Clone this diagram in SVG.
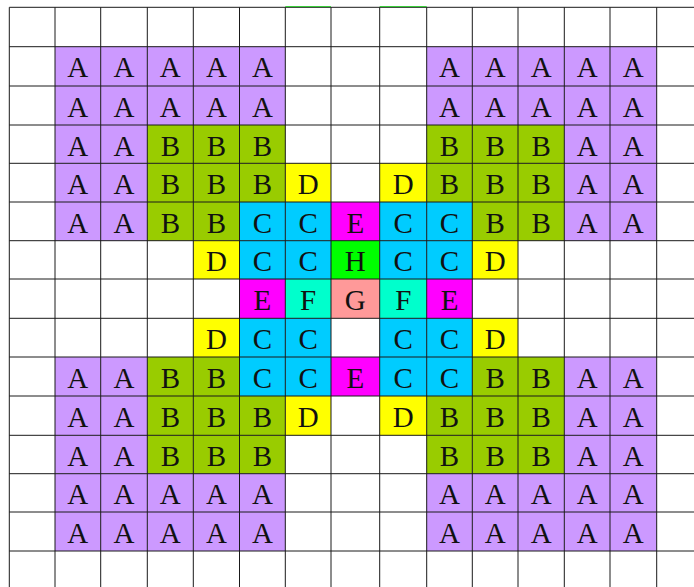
<svg xmlns="http://www.w3.org/2000/svg" width="694" height="587" viewBox="0 0 694 587">
<style>
rect{stroke:none}
.A{fill:#cc99ff}.B{fill:#99cc00}.C{fill:#00ccff}.D{fill:#ffff00}.E{fill:#ff00ff}.F{fill:#00ffcc}.G{fill:#ff9999}.H{fill:#00ff00}
text{font-family:"Liberation Serif","Times New Roman",serif;font-size:29px;text-anchor:middle;fill:#111}
.grid line{stroke:#1a1a1a;stroke-width:1}
</style>
<rect x="0" y="0" width="694" height="587" fill="#ffffff"/>
<g id="cells">
<!-- Row 1 -->
<g id="r1c1"><rect class="A" x="55" y="46.7" width="45.7" height="39.3"/><text x="77.85" y="77.3">A</text></g>
<g id="r1c2"><rect class="A" x="100.7" y="46.7" width="46.6" height="39.3"/><text x="124" y="77.3">A</text></g>
<g id="r1c3"><rect class="A" x="147.3" y="46.7" width="46" height="39.3"/><text x="170.3" y="77.3">A</text></g>
<g id="r1c4"><rect class="A" x="193.3" y="46.7" width="46.2" height="39.3"/><text x="216.4" y="77.3">A</text></g>
<g id="r1c5"><rect class="A" x="239.5" y="46.7" width="45.8" height="39.3"/><text x="262.4" y="77.3">A</text></g>
<g id="r1c9"><rect class="A" x="426.7" y="46.7" width="45.6" height="39.3"/><text x="449.5" y="77.3">A</text></g>
<g id="r1c10"><rect class="A" x="472.3" y="46.7" width="45.7" height="39.3"/><text x="495.15" y="77.3">A</text></g>
<g id="r1c11"><rect class="A" x="518" y="46.7" width="46.3" height="39.3"/><text x="541.15" y="77.3">A</text></g>
<g id="r1c12"><rect class="A" x="564.3" y="46.7" width="45.7" height="39.3"/><text x="587.15" y="77.3">A</text></g>
<g id="r1c13"><rect class="A" x="610" y="46.7" width="46.7" height="39.3"/><text x="633.35" y="77.3">A</text></g>
<!-- Row 2 -->
<g id="r2c1"><rect class="A" x="55" y="86" width="45.7" height="39"/><text x="77.85" y="116.6">A</text></g>
<g id="r2c2"><rect class="A" x="100.7" y="86" width="46.6" height="39"/><text x="124" y="116.6">A</text></g>
<g id="r2c3"><rect class="A" x="147.3" y="86" width="46" height="39"/><text x="170.3" y="116.6">A</text></g>
<g id="r2c4"><rect class="A" x="193.3" y="86" width="46.2" height="39"/><text x="216.4" y="116.6">A</text></g>
<g id="r2c5"><rect class="A" x="239.5" y="86" width="45.8" height="39"/><text x="262.4" y="116.6">A</text></g>
<g id="r2c9"><rect class="A" x="426.7" y="86" width="45.6" height="39"/><text x="449.5" y="116.6">A</text></g>
<g id="r2c10"><rect class="A" x="472.3" y="86" width="45.7" height="39"/><text x="495.15" y="116.6">A</text></g>
<g id="r2c11"><rect class="A" x="518" y="86" width="46.3" height="39"/><text x="541.15" y="116.6">A</text></g>
<g id="r2c12"><rect class="A" x="564.3" y="86" width="45.7" height="39"/><text x="587.15" y="116.6">A</text></g>
<g id="r2c13"><rect class="A" x="610" y="86" width="46.7" height="39"/><text x="633.35" y="116.6">A</text></g>
<!-- Row 3 -->
<g id="r3c1"><rect class="A" x="55" y="125" width="45.7" height="38.3"/><text x="77.85" y="155.6">A</text></g>
<g id="r3c2"><rect class="A" x="100.7" y="125" width="46.6" height="38.3"/><text x="124" y="155.6">A</text></g>
<g id="r3c3"><rect class="B" x="147.3" y="125" width="46" height="38.3"/><text x="170.3" y="155.6">B</text></g>
<g id="r3c4"><rect class="B" x="193.3" y="125" width="46.2" height="38.3"/><text x="216.4" y="155.6">B</text></g>
<g id="r3c5"><rect class="B" x="239.5" y="125" width="45.8" height="38.3"/><text x="262.4" y="155.6">B</text></g>
<g id="r3c9"><rect class="B" x="426.7" y="125" width="45.6" height="38.3"/><text x="449.5" y="155.6">B</text></g>
<g id="r3c10"><rect class="B" x="472.3" y="125" width="45.7" height="38.3"/><text x="495.15" y="155.6">B</text></g>
<g id="r3c11"><rect class="B" x="518" y="125" width="46.3" height="38.3"/><text x="541.15" y="155.6">B</text></g>
<g id="r3c12"><rect class="A" x="564.3" y="125" width="45.7" height="38.3"/><text x="587.15" y="155.6">A</text></g>
<g id="r3c13"><rect class="A" x="610" y="125" width="46.7" height="38.3"/><text x="633.35" y="155.6">A</text></g>
<!-- Row 4 -->
<g id="r4c1"><rect class="A" x="55" y="163.3" width="45.7" height="38.7"/><text x="77.85" y="193.9">A</text></g>
<g id="r4c2"><rect class="A" x="100.7" y="163.3" width="46.6" height="38.7"/><text x="124" y="193.9">A</text></g>
<g id="r4c3"><rect class="B" x="147.3" y="163.3" width="46" height="38.7"/><text x="170.3" y="193.9">B</text></g>
<g id="r4c4"><rect class="B" x="193.3" y="163.3" width="46.2" height="38.7"/><text x="216.4" y="193.9">B</text></g>
<g id="r4c5"><rect class="B" x="239.5" y="163.3" width="45.8" height="38.7"/><text x="262.4" y="193.9">B</text></g>
<g id="r4c6"><rect class="D" x="285.3" y="163.3" width="45.7" height="38.7"/><text x="308.15" y="193.9">D</text></g>
<g id="r4c8"><rect class="D" x="379.7" y="163.3" width="47" height="38.7"/><text x="403.2" y="193.9">D</text></g>
<g id="r4c9"><rect class="B" x="426.7" y="163.3" width="45.6" height="38.7"/><text x="449.5" y="193.9">B</text></g>
<g id="r4c10"><rect class="B" x="472.3" y="163.3" width="45.7" height="38.7"/><text x="495.15" y="193.9">B</text></g>
<g id="r4c11"><rect class="B" x="518" y="163.3" width="46.3" height="38.7"/><text x="541.15" y="193.9">B</text></g>
<g id="r4c12"><rect class="A" x="564.3" y="163.3" width="45.7" height="38.7"/><text x="587.15" y="193.9">A</text></g>
<g id="r4c13"><rect class="A" x="610" y="163.3" width="46.7" height="38.7"/><text x="633.35" y="193.9">A</text></g>
<!-- Row 5 -->
<g id="r5c1"><rect class="A" x="55" y="202" width="45.7" height="38.7"/><text x="77.85" y="232.6">A</text></g>
<g id="r5c2"><rect class="A" x="100.7" y="202" width="46.6" height="38.7"/><text x="124" y="232.6">A</text></g>
<g id="r5c3"><rect class="B" x="147.3" y="202" width="46" height="38.7"/><text x="170.3" y="232.6">B</text></g>
<g id="r5c4"><rect class="B" x="193.3" y="202" width="46.2" height="38.7"/><text x="216.4" y="232.6">B</text></g>
<g id="r5c5"><rect class="C" x="239.5" y="202" width="45.8" height="38.7"/><text x="262.4" y="232.6">C</text></g>
<g id="r5c6"><rect class="C" x="285.3" y="202" width="45.7" height="38.7"/><text x="308.15" y="232.6">C</text></g>
<g id="r5c7"><rect class="E" x="331" y="202" width="48.7" height="38.7"/><text x="355.35" y="232.6">E</text></g>
<g id="r5c8"><rect class="C" x="379.7" y="202" width="47" height="38.7"/><text x="403.2" y="232.6">C</text></g>
<g id="r5c9"><rect class="C" x="426.7" y="202" width="45.6" height="38.7"/><text x="449.5" y="232.6">C</text></g>
<g id="r5c10"><rect class="B" x="472.3" y="202" width="45.7" height="38.7"/><text x="495.15" y="232.6">B</text></g>
<g id="r5c11"><rect class="B" x="518" y="202" width="46.3" height="38.7"/><text x="541.15" y="232.6">B</text></g>
<g id="r5c12"><rect class="A" x="564.3" y="202" width="45.7" height="38.7"/><text x="587.15" y="232.6">A</text></g>
<g id="r5c13"><rect class="A" x="610" y="202" width="46.7" height="38.7"/><text x="633.35" y="232.6">A</text></g>
<!-- Row 6 -->
<g id="r6c4"><rect class="D" x="193.3" y="240.7" width="46.2" height="38.3"/><text x="216.4" y="271.3">D</text></g>
<g id="r6c5"><rect class="C" x="239.5" y="240.7" width="45.8" height="38.3"/><text x="262.4" y="271.3">C</text></g>
<g id="r6c6"><rect class="C" x="285.3" y="240.7" width="45.7" height="38.3"/><text x="308.15" y="271.3">C</text></g>
<g id="r6c7"><rect class="H" x="331" y="240.7" width="48.7" height="38.3"/><text x="355.35" y="271.3">H</text></g>
<g id="r6c8"><rect class="C" x="379.7" y="240.7" width="47" height="38.3"/><text x="403.2" y="271.3">C</text></g>
<g id="r6c9"><rect class="C" x="426.7" y="240.7" width="45.6" height="38.3"/><text x="449.5" y="271.3">C</text></g>
<g id="r6c10"><rect class="D" x="472.3" y="240.7" width="45.7" height="38.3"/><text x="495.15" y="271.3">D</text></g>
<!-- Row 7 -->
<g id="r7c5"><rect class="E" x="239.5" y="279" width="45.8" height="39.3"/><text x="262.4" y="309.6">E</text></g>
<g id="r7c6"><rect class="F" x="285.3" y="279" width="45.7" height="39.3"/><text x="308.15" y="309.6">F</text></g>
<g id="r7c7"><rect class="G" x="331" y="279" width="48.7" height="39.3"/><text x="355.35" y="309.6">G</text></g>
<g id="r7c8"><rect class="F" x="379.7" y="279" width="47" height="39.3"/><text x="403.2" y="309.6">F</text></g>
<g id="r7c9"><rect class="E" x="426.7" y="279" width="45.6" height="39.3"/><text x="449.5" y="309.6">E</text></g>
<!-- Row 8 -->
<g id="r8c4"><rect class="D" x="193.3" y="318.3" width="46.2" height="38.7"/><text x="216.4" y="348.9">D</text></g>
<g id="r8c5"><rect class="C" x="239.5" y="318.3" width="45.8" height="38.7"/><text x="262.4" y="348.9">C</text></g>
<g id="r8c6"><rect class="C" x="285.3" y="318.3" width="45.7" height="38.7"/><text x="308.15" y="348.9">C</text></g>
<g id="r8c8"><rect class="C" x="379.7" y="318.3" width="47" height="38.7"/><text x="403.2" y="348.9">C</text></g>
<g id="r8c9"><rect class="C" x="426.7" y="318.3" width="45.6" height="38.7"/><text x="449.5" y="348.9">C</text></g>
<g id="r8c10"><rect class="D" x="472.3" y="318.3" width="45.7" height="38.7"/><text x="495.15" y="348.9">D</text></g>
<!-- Row 9 -->
<g id="r9c1"><rect class="A" x="55" y="357" width="45.7" height="39"/><text x="77.85" y="387.6">A</text></g>
<g id="r9c2"><rect class="A" x="100.7" y="357" width="46.6" height="39"/><text x="124" y="387.6">A</text></g>
<g id="r9c3"><rect class="B" x="147.3" y="357" width="46" height="39"/><text x="170.3" y="387.6">B</text></g>
<g id="r9c4"><rect class="B" x="193.3" y="357" width="46.2" height="39"/><text x="216.4" y="387.6">B</text></g>
<g id="r9c5"><rect class="C" x="239.5" y="357" width="45.8" height="39"/><text x="262.4" y="387.6">C</text></g>
<g id="r9c6"><rect class="C" x="285.3" y="357" width="45.7" height="39"/><text x="308.15" y="387.6">C</text></g>
<g id="r9c7"><rect class="E" x="331" y="357" width="48.7" height="39"/><text x="355.35" y="387.6">E</text></g>
<g id="r9c8"><rect class="C" x="379.7" y="357" width="47" height="39"/><text x="403.2" y="387.6">C</text></g>
<g id="r9c9"><rect class="C" x="426.7" y="357" width="45.6" height="39"/><text x="449.5" y="387.6">C</text></g>
<g id="r9c10"><rect class="B" x="472.3" y="357" width="45.7" height="39"/><text x="495.15" y="387.6">B</text></g>
<g id="r9c11"><rect class="B" x="518" y="357" width="46.3" height="39"/><text x="541.15" y="387.6">B</text></g>
<g id="r9c12"><rect class="A" x="564.3" y="357" width="45.7" height="39"/><text x="587.15" y="387.6">A</text></g>
<g id="r9c13"><rect class="A" x="610" y="357" width="46.7" height="39"/><text x="633.35" y="387.6">A</text></g>
<!-- Row 10 -->
<g id="r10c1"><rect class="A" x="55" y="396" width="45.7" height="39.3"/><text x="77.85" y="426.6">A</text></g>
<g id="r10c2"><rect class="A" x="100.7" y="396" width="46.6" height="39.3"/><text x="124" y="426.6">A</text></g>
<g id="r10c3"><rect class="B" x="147.3" y="396" width="46" height="39.3"/><text x="170.3" y="426.6">B</text></g>
<g id="r10c4"><rect class="B" x="193.3" y="396" width="46.2" height="39.3"/><text x="216.4" y="426.6">B</text></g>
<g id="r10c5"><rect class="B" x="239.5" y="396" width="45.8" height="39.3"/><text x="262.4" y="426.6">B</text></g>
<g id="r10c6"><rect class="D" x="285.3" y="396" width="45.7" height="39.3"/><text x="308.15" y="426.6">D</text></g>
<g id="r10c8"><rect class="D" x="379.7" y="396" width="47" height="39.3"/><text x="403.2" y="426.6">D</text></g>
<g id="r10c9"><rect class="B" x="426.7" y="396" width="45.6" height="39.3"/><text x="449.5" y="426.6">B</text></g>
<g id="r10c10"><rect class="B" x="472.3" y="396" width="45.7" height="39.3"/><text x="495.15" y="426.6">B</text></g>
<g id="r10c11"><rect class="B" x="518" y="396" width="46.3" height="39.3"/><text x="541.15" y="426.6">B</text></g>
<g id="r10c12"><rect class="A" x="564.3" y="396" width="45.7" height="39.3"/><text x="587.15" y="426.6">A</text></g>
<g id="r10c13"><rect class="A" x="610" y="396" width="46.7" height="39.3"/><text x="633.35" y="426.6">A</text></g>
<!-- Row 11 -->
<g id="r11c1"><rect class="A" x="55" y="435.3" width="45.7" height="38.4"/><text x="77.85" y="465.9">A</text></g>
<g id="r11c2"><rect class="A" x="100.7" y="435.3" width="46.6" height="38.4"/><text x="124" y="465.9">A</text></g>
<g id="r11c3"><rect class="B" x="147.3" y="435.3" width="46" height="38.4"/><text x="170.3" y="465.9">B</text></g>
<g id="r11c4"><rect class="B" x="193.3" y="435.3" width="46.2" height="38.4"/><text x="216.4" y="465.9">B</text></g>
<g id="r11c5"><rect class="B" x="239.5" y="435.3" width="45.8" height="38.4"/><text x="262.4" y="465.9">B</text></g>
<g id="r11c9"><rect class="B" x="426.7" y="435.3" width="45.6" height="38.4"/><text x="449.5" y="465.9">B</text></g>
<g id="r11c10"><rect class="B" x="472.3" y="435.3" width="45.7" height="38.4"/><text x="495.15" y="465.9">B</text></g>
<g id="r11c11"><rect class="B" x="518" y="435.3" width="46.3" height="38.4"/><text x="541.15" y="465.9">B</text></g>
<g id="r11c12"><rect class="A" x="564.3" y="435.3" width="45.7" height="38.4"/><text x="587.15" y="465.9">A</text></g>
<g id="r11c13"><rect class="A" x="610" y="435.3" width="46.7" height="38.4"/><text x="633.35" y="465.9">A</text></g>
<!-- Row 12 -->
<g id="r12c1"><rect class="A" x="55" y="473.7" width="45.7" height="38.3"/><text x="77.85" y="504.3">A</text></g>
<g id="r12c2"><rect class="A" x="100.7" y="473.7" width="46.6" height="38.3"/><text x="124" y="504.3">A</text></g>
<g id="r12c3"><rect class="A" x="147.3" y="473.7" width="46" height="38.3"/><text x="170.3" y="504.3">A</text></g>
<g id="r12c4"><rect class="A" x="193.3" y="473.7" width="46.2" height="38.3"/><text x="216.4" y="504.3">A</text></g>
<g id="r12c5"><rect class="A" x="239.5" y="473.7" width="45.8" height="38.3"/><text x="262.4" y="504.3">A</text></g>
<g id="r12c9"><rect class="A" x="426.7" y="473.7" width="45.6" height="38.3"/><text x="449.5" y="504.3">A</text></g>
<g id="r12c10"><rect class="A" x="472.3" y="473.7" width="45.7" height="38.3"/><text x="495.15" y="504.3">A</text></g>
<g id="r12c11"><rect class="A" x="518" y="473.7" width="46.3" height="38.3"/><text x="541.15" y="504.3">A</text></g>
<g id="r12c12"><rect class="A" x="564.3" y="473.7" width="45.7" height="38.3"/><text x="587.15" y="504.3">A</text></g>
<g id="r12c13"><rect class="A" x="610" y="473.7" width="46.7" height="38.3"/><text x="633.35" y="504.3">A</text></g>
<!-- Row 13 -->
<g id="r13c1"><rect class="A" x="55" y="512" width="45.7" height="39"/><text x="77.85" y="542.6">A</text></g>
<g id="r13c2"><rect class="A" x="100.7" y="512" width="46.6" height="39"/><text x="124" y="542.6">A</text></g>
<g id="r13c3"><rect class="A" x="147.3" y="512" width="46" height="39"/><text x="170.3" y="542.6">A</text></g>
<g id="r13c4"><rect class="A" x="193.3" y="512" width="46.2" height="39"/><text x="216.4" y="542.6">A</text></g>
<g id="r13c5"><rect class="A" x="239.5" y="512" width="45.8" height="39"/><text x="262.4" y="542.6">A</text></g>
<g id="r13c9"><rect class="A" x="426.7" y="512" width="45.6" height="39"/><text x="449.5" y="542.6">A</text></g>
<g id="r13c10"><rect class="A" x="472.3" y="512" width="45.7" height="39"/><text x="495.15" y="542.6">A</text></g>
<g id="r13c11"><rect class="A" x="518" y="512" width="46.3" height="39"/><text x="541.15" y="542.6">A</text></g>
<g id="r13c12"><rect class="A" x="564.3" y="512" width="45.7" height="39"/><text x="587.15" y="542.6">A</text></g>
<g id="r13c13"><rect class="A" x="610" y="512" width="46.7" height="39"/><text x="633.35" y="542.6">A</text></g>
</g>
<g id="grid" class="grid">
<line x1="9.3" y1="7.3" x2="9.3" y2="587"/>
<line x1="55" y1="7.3" x2="55" y2="587"/>
<line x1="100.7" y1="7.3" x2="100.7" y2="587"/>
<line x1="147.3" y1="7.3" x2="147.3" y2="587"/>
<line x1="193.3" y1="7.3" x2="193.3" y2="587"/>
<line x1="239.5" y1="7.3" x2="239.5" y2="587"/>
<line x1="285.3" y1="7.3" x2="285.3" y2="587"/>
<line x1="331" y1="7.3" x2="331" y2="587"/>
<line x1="379.7" y1="7.3" x2="379.7" y2="587"/>
<line x1="426.7" y1="7.3" x2="426.7" y2="587"/>
<line x1="472.3" y1="7.3" x2="472.3" y2="587"/>
<line x1="518" y1="7.3" x2="518" y2="587"/>
<line x1="564.3" y1="7.3" x2="564.3" y2="587"/>
<line x1="610" y1="7.3" x2="610" y2="587"/>
<line x1="656.7" y1="7.3" x2="656.7" y2="587"/>
<line x1="9.3" y1="7.3" x2="694" y2="7.3"/>
<line x1="9.3" y1="46.7" x2="694" y2="46.7"/>
<line x1="9.3" y1="86" x2="694" y2="86"/>
<line x1="9.3" y1="125" x2="694" y2="125"/>
<line x1="9.3" y1="163.3" x2="694" y2="163.3"/>
<line x1="9.3" y1="202" x2="694" y2="202"/>
<line x1="9.3" y1="240.7" x2="694" y2="240.7"/>
<line x1="9.3" y1="279" x2="694" y2="279"/>
<line x1="9.3" y1="318.3" x2="694" y2="318.3"/>
<line x1="9.3" y1="357" x2="694" y2="357"/>
<line x1="9.3" y1="396" x2="694" y2="396"/>
<line x1="9.3" y1="435.3" x2="694" y2="435.3"/>
<line x1="9.3" y1="473.7" x2="694" y2="473.7"/>
<line x1="9.3" y1="512" x2="694" y2="512"/>
<line x1="9.3" y1="551" x2="694" y2="551"/>
<line x1="285.3" y1="6.6" x2="331" y2="6.6" style="stroke:#00cc00;stroke-width:0.8"/>
<line x1="379.7" y1="6.6" x2="426.7" y2="6.6" style="stroke:#00cc00;stroke-width:0.8"/>
</g>
</svg>
